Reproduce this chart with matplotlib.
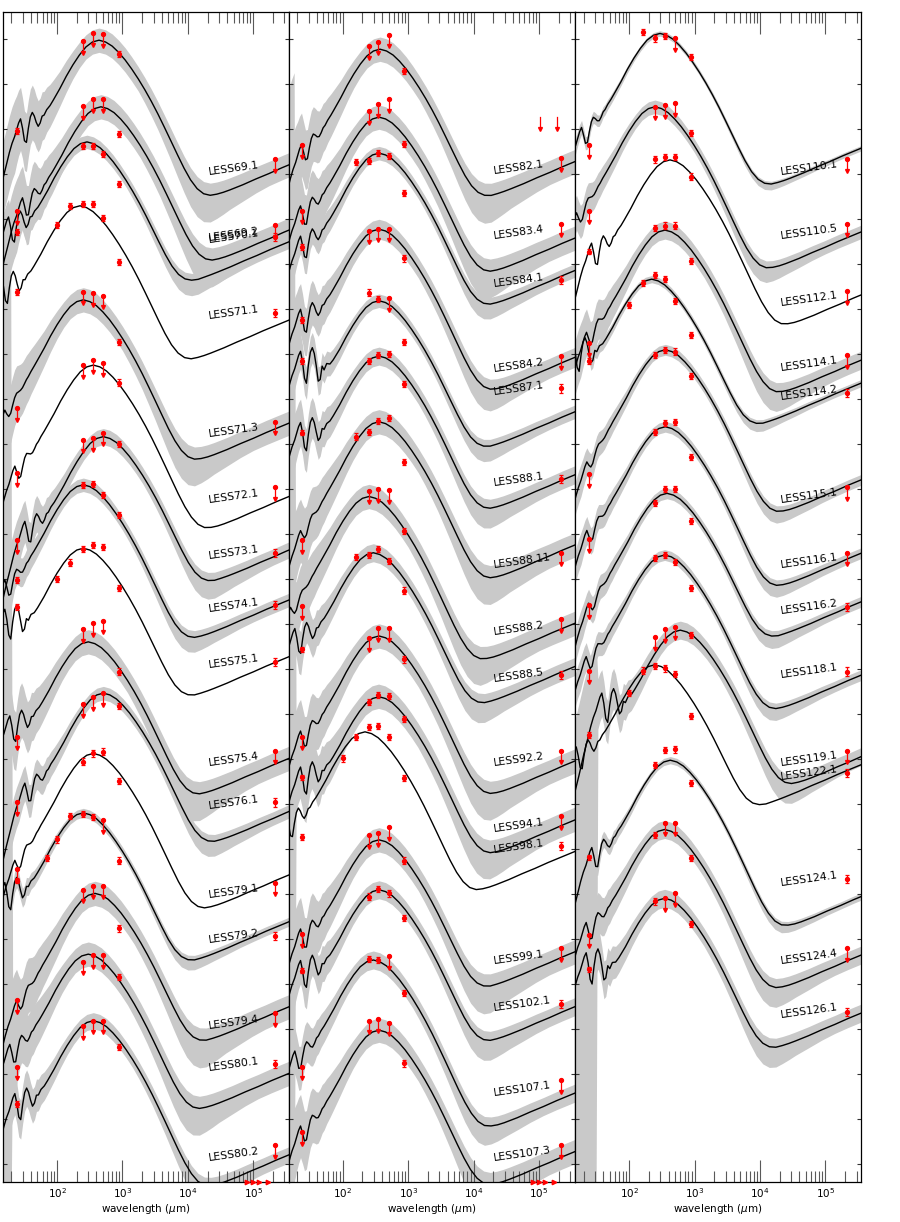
import numpy as np
import matplotlib
matplotlib.use("Agg")
import matplotlib.pyplot as plt
from matplotlib.ticker import MultipleLocator, NullLocator

# ---------------- template SED (offsets from the far-IR peak, in decades) ----------------
DELTA = [-1.65, -1.55, -1.48, -1.42, -1.37, -1.33, -1.29, -1.26, -1.23, -1.20, -1.17, -1.14,
         -1.11, -1.08, -1.05, -1.02, -0.99, -0.96, -0.93, -0.90, -0.87, -0.84, -0.80, -0.75,
         -0.70, -0.60, -0.50, -0.40, -0.30, -0.20, -0.10, 0.00, 0.10, 0.20, 0.30, 0.40, 0.50,
         0.60, 0.70, 0.80, 0.90, 1.00, 1.10, 1.20, 1.30, 1.40, 1.50, 1.60, 1.70, 1.80, 1.90,
         2.00, 2.20, 2.40, 2.60, 2.80, 3.00, 3.20, 3.40]
DUST = [-5.2, -4.7, -4.35, -4.05, -3.8, -3.6, -3.4, -3.25, -3.1, -2.95, -2.82, -2.7,
        -2.58, -2.46, -2.35, -2.25, -2.15, -2.05, -1.96, -1.87, -1.79, -1.71, -1.60, -1.47,
        -1.34, -1.08, -0.80, -0.55, -0.33, -0.15, -0.04, 0.0, -0.04, -0.13, -0.27, -0.44, -0.64,
        -0.86, -1.10, -1.36, -1.64, -1.94, -2.25, -2.57, -2.90, -3.23, -3.56, -3.90, -4.24, -4.58, -4.92,
        -5.26, -5.95, -6.6, -7.3, -8.0, -8.7, -9.4, -10.1]
PAH = [-3.8, -3.2, -2.75, -2.4, -2.1, -1.9, -1.75, -1.6, -1.45, -1.36, -1.6, -2.0,
       -2.15, -1.7, -1.4, -1.3, -1.45, -1.8, -2.5, -2.6, -1.95, -2.25, -2.05, -2.5,
       -2.75, -3.2, -3.7, -4.2, -4.7, -5.2, -5.7, -6.2, -6.7, -7.2, -7.7, -9, -9,
       -9, -9, -9, -9, -9, -9, -9, -9, -9, -9, -9, -9, -9, -9,
       -9, -9, -9, -9, -9, -9, -9, -9]
RADIO = [-5.44, -5.38, -5.34, -5.30, -5.27, -5.24, -5.22, -5.20, -5.18, -5.16, -5.15, -5.13,
         -5.11, -5.09, -5.07, -5.05, -5.03, -5.02, -5.00, -4.98, -4.96, -4.94, -4.92, -4.89,
         -4.85, -4.79, -4.73, -4.67, -4.61, -4.54, -4.48, -4.42, -4.36, -4.30, -4.23, -4.17, -4.11,
         -4.05, -3.99, -3.92, -3.86, -3.80, -3.74, -3.68, -3.61, -3.55, -3.49, -3.43, -3.37, -3.30, -3.24,
         -3.18, -3.06, -2.93, -2.81, -2.68, -2.56, -2.44, -2.31]
BAND_UP = [3.0, 3.0, 3.0, 3.0, 3.0, 3.0, 3.0, 2.8, 2.7, 2.6, 2.5, 2.45,
           2.4, 2.35, 2.3, 2.25, 2.2, 2.15, 2.1, 2.05, 2.0, 1.95, 1.85, 1.75,
           1.65, 1.45, 1.3, 1.15, 1.05, 1.0, 1.0, 1.0, 1.0, 1.0, 1.0, 1.0, 1.0,
           1.0, 1.0, 1.0, 1.0, 1.0, 1.0, 1.0, 1.0, 1.0, 1.0, 1.0, 1.0, 1.0, 1.0,
           1.0, 1.0, 1.0, 1.0, 1.0, 1.0, 1.0, 1.0]
BAND_LO = [3.0, 3.0, 3.0, 3.0, 3.0, 3.0, 3.0, 2.8, 2.7, 2.6, 2.5, 2.45,
           2.4, 2.35, 2.3, 2.25, 2.2, 2.15, 2.1, 2.05, 2.0, 1.95, 1.85, 1.75,
           1.65, 1.45, 1.3, 1.15, 1.05, 1.0, 1.0, 1.0, 1.0, 1.0, 1.0, 1.0, 1.0,
           1.0, 1.1, 1.2, 1.3, 1.45, 1.6, 1.8, 2.0, 2.2, 2.3, 2.3, 2.2, 2.0, 1.8,
           1.6, 1.35, 1.15, 1.0, 1.0, 1.0, 1.0, 1.0]
MIR_WIDE = [1, 1, 1, 1, 1, 1, 1] + [0] * 52

# ---------------- sources ----------------
NAMES = ["LESS69.1", "LESS69.2", "LESS70.1", "LESS71.1", "LESS71.3", "LESS72.1", "LESS73.1", "LESS74.1",
         "LESS75.1", "LESS75.4", "LESS76.1", "LESS79.1", "LESS79.2", "LESS79.4", "LESS80.1", "LESS80.2",
         "LESS82.1", "LESS83.4", "LESS84.1", "LESS84.2", "LESS87.1", "LESS88.1", "LESS88.11", "LESS88.2",
         "LESS88.5", "LESS92.2", "LESS94.1", "LESS98.1", "LESS99.1", "LESS102.1", "LESS107.1", "LESS107.3",
         "LESS110.1", "LESS110.5", "LESS112.1", "LESS114.1", "LESS114.2", "LESS115.1", "LESS116.1",
         "LESS116.2", "LESS118.1", "LESS119.1", "LESS122.1", "LESS124.1", "LESS124.4", "LESS126.1"]
PANEL = [0] * 16 + [1] * 16 + [2] * 14
LOGPEAK = [2.641, 2.671, 2.457, 2.350, 2.401, 2.554, 2.707, 2.401, 2.401, 2.477, 2.707, 2.554, 2.401, 2.580, 2.477, 2.554,
           2.569, 2.554, 2.554, 2.554, 2.554, 2.554, 2.554, 2.401, 2.467, 2.554, 2.554, 2.340, 2.554, 2.554, 2.467, 2.554,
           2.470, 2.393, 2.623, 2.546, 2.343, 2.551, 2.551, 2.577, 2.541, 2.780, 2.389, 2.627, 2.541, 2.541]
YPEAK = [24.98, 23.50, 22.72, 21.30, 19.21, 17.76, 16.17, 15.10, 13.69, 11.61, 10.47, 9.13, 7.81, 6.02, 4.67, 3.19,
         24.78, 23.27, 22.47, 20.78, 19.19, 17.96, 16.50, 14.84, 13.59, 11.74, 10.39, 9.61, 7.21, 6.10, 4.54, 2.98,
         25.13, 23.50, 22.32, 20.76, 19.67, 18.10, 16.39, 14.91, 13.54, 11.87, 11.10, 8.98, 7.44, 5.91]
YEND = [22.21, 20.76, 20.50, 18.76, 16.47, 14.84, 13.65, 12.54, 11.28, 9.02, 7.84, 6.43, 5.39, 3.50, 2.02, 0.21,
        22.28, 20.58, 19.86, 17.93, 16.72, 15.32, 13.76, 12.02, 11.06, 8.96, 7.65, 6.95, 4.72, 3.50, 1.58, 0.28,
        22.58, 20.72, 19.32, 17.87, 17.36, 15.21, 13.58, 12.50, 10.87, 9.06, 8.88, 5.95, 4.65, 3.36]
BAND = [0.27, 0.27, 0.15, 0.0, 0.27, 0.0, 0.18, 0.15, 0.0, 0.27, 0.15, 0.0, 0.10, 0.27, 0.27, 0.18,
        0.27, 0.27, 0.15, 0.22, 0.15, 0.20, 0.27, 0.27, 0.20, 0.27, 0.27, 0.0, 0.27, 0.20, 0.20, 0.27,
        0.06, 0.15, 0.0, 0.20, 0.08, 0.12, 0.12, 0.12, 0.12, 0.20, 0.0, 0.08, 0.20, 0.20]
WIDE_UP = {13: 16.0, 26: 15.0, 41: 1.0}
WIDE_DN = {13: 4.5, 26: 9.5, 41: 11.0}

# ---------------- photometry (log flux + offset); flag 1 = upper limit ----------------
F24 = [22.96, 21.18, 20.72, 19.38, 16.80, 15.36, 13.87, 12.98, 12.38, 9.50, 8.04, 6.56, 6.30, 3.64, 2.17, 1.34,
       22.65, 21.19, 20.38, 18.76, 17.85, 16.26, 13.87, 12.41, 11.44, 9.50, 8.60, 7.27, 5.12, 4.30, 2.17, 0.72,
       22.64, 21.19, 20.28, 18.24, 17.85, 15.34, 13.89, 12.43, 10.97, 9.54, None, 6.82, 5.10, 4.33]
L24 = [0, 1, 0, 0, 1, 1, 1, 0, 0, 1, 1, 1, 0, 1, 1, 0,
       1, 1, 0, 0, 0, 0, 1, 1, 0, 1, 0, 0, 1, 0, 1, 1,
       1, 1, 0, 1, 0, 1, 1, 1, 1, 0, 0, 0, 1, 0]
F70 = {12: 6.80}
F100 = {3: 20.87, 8: 13.01, 12: 7.22, 27: 9.02, 36: 19.10, 42: 10.48}
F160 = {3: 21.30, 8: 13.37, 12: 7.74, 18: 22.27, 22: 16.17, 24: 13.50, 27: 9.49, 32: 25.16, 36: 19.58, 42: 10.97}
F250 = [24.96, 23.52, 22.63, 21.34, 19.39, 17.76, 16.10, 15.10, 13.67, 11.89, 10.23, 8.95, 7.78, 6.10, 4.50, 3.07,
        24.85, 23.41, 22.30, 20.75, 19.37, 17.85, 16.28, 14.97, 13.54, 11.69, 10.28, 9.72, 7.32, 5.95, 4.56, 3.19,
        25.02, 23.50, 22.33, 20.81, 19.76, 17.98, 16.28, 14.70, 13.47, 11.72, 11.07, 8.87, 7.32, 5.84]
L250 = [1, 1, 0, 0, 1, 1, 1, 0, 0, 1, 1, 0, 0, 1, 1, 1,
        1, 1, 0, 1, 0, 0, 0, 1, 0, 1, 0, 0, 1, 0, 0, 1,
        0, 1, 0, 0, 0, 0, 0, 0, 0, 1, 0, 0, 0, 0]
F350 = [25.14, 23.67, 22.63, 21.34, 19.36, 17.87, 16.13, 15.12, 13.76, 12.02, 10.38, 9.13, 7.71, 6.19, 4.65, 3.19,
        24.95, 23.56, 22.47, 20.79, 19.23, 17.98, 16.52, 15.00, 13.67, 11.91, 10.43, 9.74, 7.36, 6.11, 4.54, 3.22,
        25.07, 23.54, 22.39, 20.86, 19.67, 18.10, 16.48, 15.00, 13.54, 11.89, 11.02, 9.21, 7.59, 5.91]
L350 = [1, 1, 0, 0, 1, 1, 1, 0, 0, 1, 1, 0, 0, 1, 1, 1,
        1, 1, 0, 1, 0, 0, 0, 1, 0, 1, 0, 0, 1, 0, 0, 1,
        0, 1, 0, 0, 0, 0, 0, 0, 0, 1, 0, 0, 1, 1]
F500 = [25.12, 23.67, 22.45, 21.03, 19.30, 17.81, 16.26, 14.87, 13.72, 12.08, 10.47, 9.17, 7.64, 6.19, 4.65, 3.19,
        25.10, 23.67, 22.41, 20.79, 19.24, 18.01, 16.58, 14.98, 13.41, 11.91, 10.41, 9.50, 7.49, 6.02, 4.63, 3.15,
        25.02, 23.58, 22.39, 20.86, 19.19, 18.06, 16.50, 15.00, 13.39, 11.95, 10.90, 9.22, 7.59, 6.02]
L500 = [1, 1, 0, 0, 1, 1, 1, 0, 0, 1, 1, 0, 1, 1, 1, 1,
        1, 1, 0, 1, 1, 0, 0, 1, 0, 1, 0, 0, 1, 0, 1, 1,
        1, 1, 0, 0, 0, 0, 0, 0, 0, 1, 0, 0, 1, 1]
F870 = [24.67, 22.90, 21.78, 20.05, 18.28, 17.37, 16.01, 14.43, 12.80, 10.95, 10.18, 8.52, 6.75, 5.24, 4.16, 2.61,
        24.30, 22.67, 21.58, 20.13, 18.28, 17.34, 15.61, 14.08, 12.75, 11.22, 9.89, 8.58, 6.75, 5.47, 3.80, 2.24,
        24.61, 22.91, 21.95, 20.07, 18.43, 17.52, 15.71, 14.30, 12.80, 11.76, 9.96, 8.47, 6.80, 5.34]
F1P4 = [22.34, 20.87, 20.61, 18.92, 16.50, 15.04, 13.59, 12.43, 11.17, 9.19, 8.04, 6.26, 5.07, 3.36, 2.23, 0.43,
        22.36, 20.90, 19.65, 17.96, 17.24, 15.22, 13.59, 12.11, 10.87, 9.19, 7.74, 7.07, 4.80, 3.56, 1.87, 0.43,
        22.33, 20.90, 19.41, 17.98, 17.13, 15.04, 13.59, 12.38, 10.95, 9.19, 8.69, 6.33, 4.80, 3.39]
L1P4 = [1, 1, 0, 0, 1, 1, 0, 0, 0, 1, 0, 1, 0, 1, 0, 1,
        1, 1, 0, 1, 0, 0, 1, 1, 0, 1, 1, 0, 1, 0, 1, 1,
        1, 1, 1, 1, 0, 1, 1, 0, 0, 1, 0, 0, 1, 0]
EXTRA_LIMITS = {16: ([1.04e5, 1.87e5], 23.27)}      # arrows without a symbol
BOTTOM_MARKS = [8.0e4, 9.9e4, 1.22e5, 1.68e5]        # panels 1 and 2

WL = {"24": 24.0, "70": 70.0, "100": 100.0, "160": 160.0, "250": 250.0,
      "350": 350.0, "500": 500.0, "870": 870.0, "1p4": 2.14e5}

XMIN, XMAX = 14.89, 3.516e5
YMIN, YMAX = -0.40, 25.60
RED = "#ff0000"
GREY = "#c9c9c9"
ARROW = 0.26

fig = plt.figure(figsize=(9, 12.22), dpi=100)
lefts = [3.0 / 900, 288.7 / 900, 575.2 / 900]
axes = []
for k in range(3):
    ax = fig.add_axes([lefts[k], 0.0325, 286.0 / 900, 0.95744])
    ax.set_xscale("log")
    ax.set_xlim(XMIN, XMAX)
    ax.set_ylim(YMIN, YMAX)
    axes.append(ax)

delta = np.array(DELTA)
dust = np.array(DUST)
pah = np.array(PAH)
radio = np.array(RADIO)
bup = np.array(BAND_UP)
blo = np.array(BAND_LO)
wide = np.array(MIR_WIDE, dtype=float)


def det(ax, x, y, err):
    ax.errorbar([x], [y], yerr=[err], fmt="o", ms=2.8, color=RED, ecolor=RED,
                elinewidth=0.9, capsize=1.6, capthick=0.9, zorder=5)


def ulim(ax, x, y, dot=True):
    ax.plot([x, x], [y, y - ARROW], color=RED, lw=0.9, zorder=5)
    ax.plot([x], [y - ARROW], marker="v", ms=2.8, color=RED, zorder=5, lw=0)
    if dot:
        ax.plot([x], [y], marker="o", ms=2.8, color=RED, zorder=5, lw=0)


for i, name in enumerate(NAMES):
    ax = axes[PANEL[i]]
    lp, yp = LOGPEAK[i], YPEAK[i]
    lam = 10 ** (lp + delta)
    # radio normalisation from the level at the right edge
    dR = np.log10(XMAX) - lp
    r = (YEND[i] - yp) - np.interp(dR, delta, radio)
    # mid-IR normalisation from the 24 micron point
    if F24[i] is not None:
        d24 = np.log10(24.0) - lp
        y24 = F24[i] - (0.15 if L24[i] else 0.0)
        m = (y24 - yp) - np.interp(d24, delta, pah)
    else:
        m = -0.5
    total = 10 ** dust + 10 ** (radio + r) + 10 ** (pah + m)
    y = yp + np.log10(total)
    bw = BAND[i]
    wu = WIDE_UP.get(i, 0.0)
    wd = WIDE_DN.get(i, 0.0)
    if bw > 0 or wu > 0 or wd > 0:
        ax.fill_between(lam, y - bw * blo - wd * wide, y + bw * bup + wu * wide,
                        color=GREY, lw=0, zorder=1)
    ax.plot(lam, y, color="black", lw=1.0, zorder=2)

    # photometry
    if F24[i] is not None:
        if L24[i]:
            ulim(ax, WL["24"], F24[i])
        else:
            det(ax, WL["24"], F24[i], 0.06)
    for key, dct in (("70", F70), ("100", F100), ("160", F160)):
        if i in dct:
            det(ax, WL[key], dct[i], 0.07)
    for key, vals, lims in (("250", F250, L250), ("350", F350, L350), ("500", F500, L500)):
        if lims[i]:
            ulim(ax, WL[key], vals[i])
        else:
            det(ax, WL[key], vals[i], 0.07)
    det(ax, WL["870"], F870[i], 0.07)
    if L1P4[i]:
        ulim(ax, WL["1p4"], F1P4[i])
        ylab = F1P4[i] - 0.2
    else:
        det(ax, WL["1p4"], F1P4[i], 0.09)
        ylab = F1P4[i]
    if i in EXTRA_LIMITS:
        xs, ytop = EXTRA_LIMITS[i]
        for xx in xs:
            ulim(ax, xx, ytop, dot=False)
    ax.text(2.03e4, ylab - 0.08, name, rotation=8, rotation_mode="anchor",
            ha="left", va="center", fontsize=7.8, color="black", zorder=6)

for k in (0, 1):
    axes[k].plot(BOTTOM_MARKS, [YMIN] * len(BOTTOM_MARKS), ls="none", marker=">",
                 ms=3.2, color=RED, clip_on=False, zorder=7)

for ax in axes:
    ax.tick_params(axis="x", which="major", direction="in", length=16, width=0.8,
                   color="0.35", top=True, labelsize=7.5, pad=3)
    ax.tick_params(axis="x", which="minor", direction="in", length=8, width=0.8,
                   color="0.35", top=True)
    ax.yaxis.set_major_locator(MultipleLocator(1))
    ax.yaxis.set_minor_locator(NullLocator())
    ax.tick_params(axis="y", which="major", direction="in", length=3, width=0.8,
                   color="0.2", left=True, right=True, labelleft=False)
    for sp in ax.spines.values():
        sp.set_linewidth(0.9)
    ax.set_xlabel(r"wavelength ($\mu$m)", fontsize=7.5, labelpad=1)

fig.savefig("out.png", dpi=100)
